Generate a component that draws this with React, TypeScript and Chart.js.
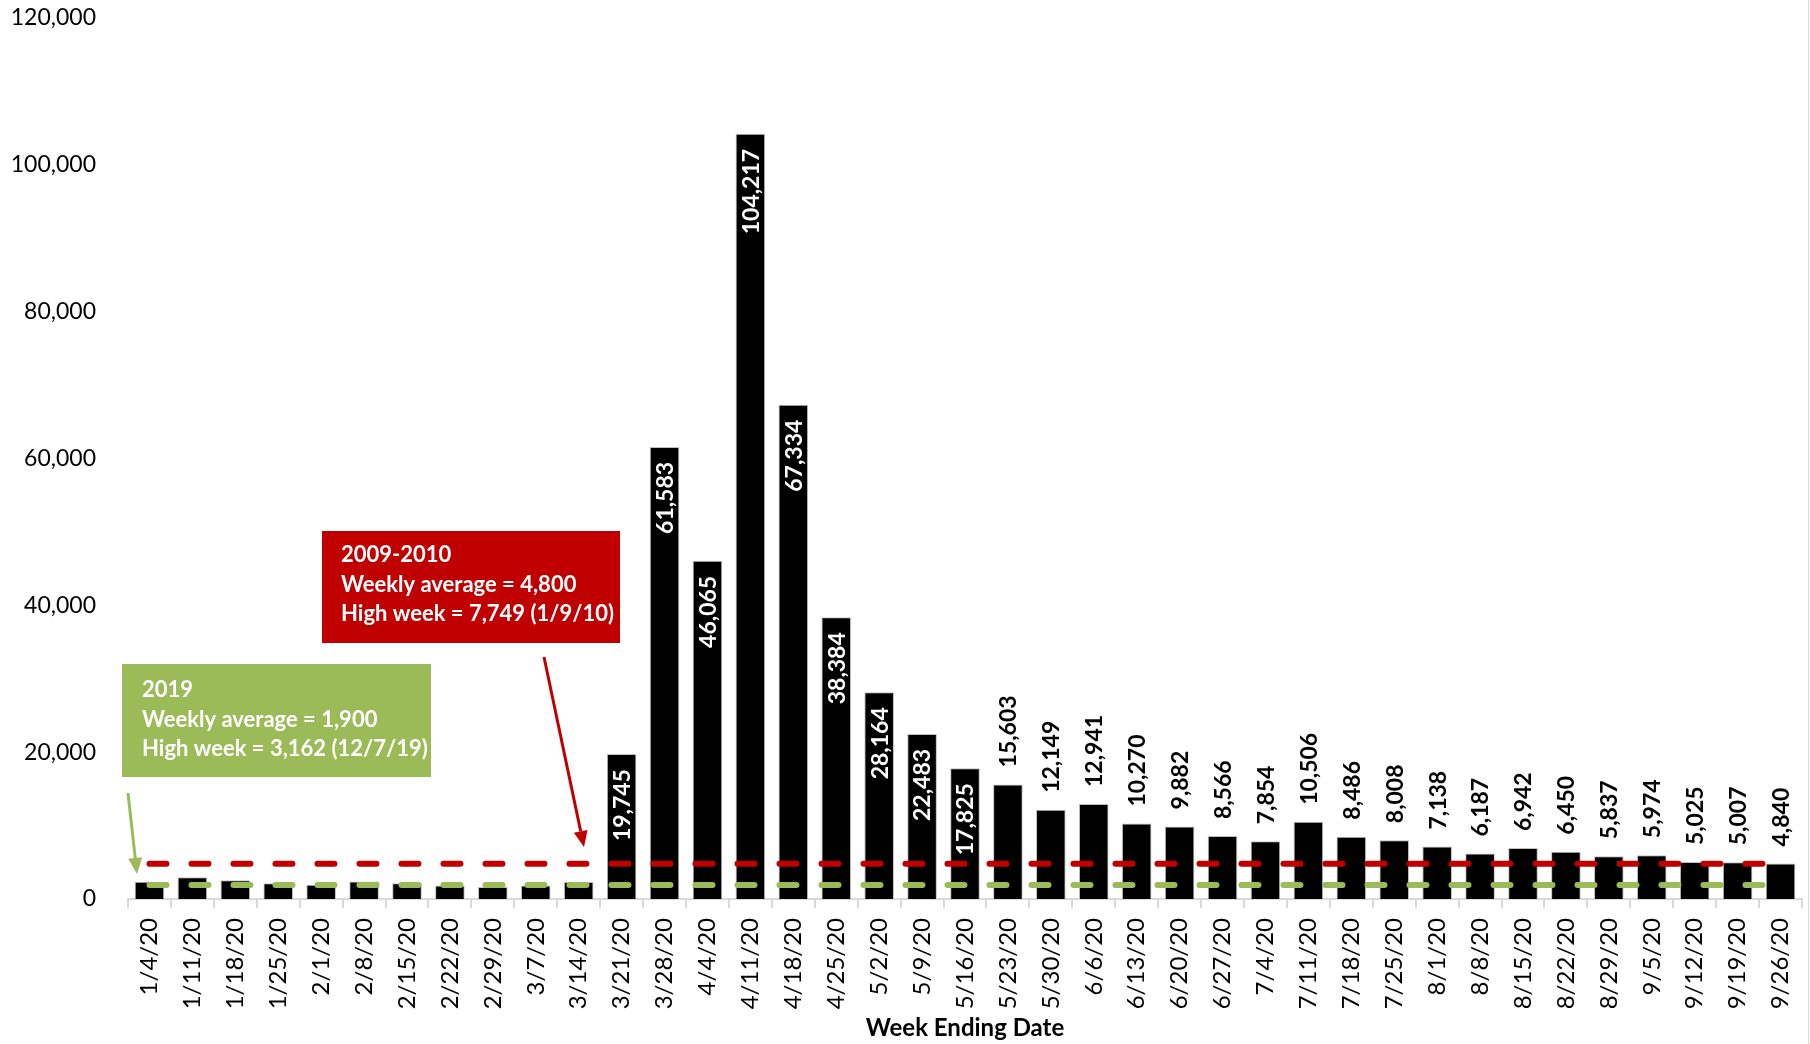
import React, { useEffect, useRef } from 'react';
import { Chart, registerables } from 'chart.js';

Chart.register(...registerables);

// ---- data ----
const weeks = [
  '1/4/20', '1/11/20', '1/18/20', '1/25/20', '2/1/20', '2/8/20', '2/15/20', '2/22/20', '2/29/20',
  '3/7/20', '3/14/20', '3/21/20', '3/28/20', '4/4/20', '4/11/20', '4/18/20', '4/25/20', '5/2/20',
  '5/9/20', '5/16/20', '5/23/20', '5/30/20', '6/6/20', '6/13/20', '6/20/20', '6/27/20', '7/4/20',
  '7/11/20', '7/18/20', '7/25/20', '8/1/20', '8/8/20', '8/15/20', '8/22/20', '8/29/20', '9/5/20',
  '9/12/20', '9/19/20', '9/26/20',
];

const claims = [
  2350, 2950, 2550, 2150, 1950, 2400, 2150, 1850, 1650,
  1850, 2300, 19745, 61583, 46065, 104217, 67334, 38384, 28164,
  22483, 17825, 15603, 12149, 12941, 10270, 9882, 8566, 7854,
  10506, 8486, 8008, 7138, 6187, 6942, 6450, 5837, 5974,
  5025, 5007, 4840,
];

const avg2009to2010 = 4800;
const avg2019 = 1900;

const yMin = 0;
const yMax = 120000;
const yStep = 20000;

const firstLabeledWeek = '3/21/20';
const insideLabelMin = 17000;

const redBoxLines = ['2009-2010', 'Weekly average = 4,800', 'High week = 7,749 (1/9/10)'];
const greenBoxLines = ['2019', 'Weekly average = 1,900', 'High week = 3,162 (12/7/19)'];

const xAxisTitle = 'Week Ending Date';

// ---- styles ----
const FONT = 'Lato, "Open Sans", "DejaVu Sans", sans-serif';
const RED = '#C00000';
const GREEN = '#9BBB59';
const AXIS_GRAY = '#D9D9D9';

const barLabelPlugin = {
  id: 'barLabels',
  afterDatasetsDraw(chart: any) {
    const meta = chart.getDatasetMeta(0);
    const ctx = chart.ctx;
    const start = weeks.indexOf(firstLabeledWeek);
    ctx.save();
    ctx.font = `bold 23px ${FONT}`;
    ctx.textBaseline = 'middle';
    meta.data.forEach((el: any, i: number) => {
      if (i < start) return;
      const v = claims[i];
      const inside = v >= insideLabelMin;
      const text = v.toLocaleString('en-US');
      ctx.save();
      ctx.translate(el.x, inside ? el.y + 15 : el.y - 17);
      ctx.rotate(-Math.PI / 2);
      ctx.textAlign = inside ? 'right' : 'left';
      ctx.fillStyle = inside ? '#FFFFFF' : '#000000';
      ctx.fillText(text, 0, 1);
      ctx.restore();
    });
    ctx.restore();
  },
};

function drawArrow(ctx: CanvasRenderingContext2D, x1: number, y1: number, x2: number, y2: number, color: string) {
  const ang = Math.atan2(y2 - y1, x2 - x1);
  const headLen = 16;
  const headHalf = 7;
  const bx = x2 - headLen * Math.cos(ang);
  const by = y2 - headLen * Math.sin(ang);
  ctx.save();
  ctx.strokeStyle = color;
  ctx.fillStyle = color;
  ctx.lineWidth = 3;
  ctx.beginPath();
  ctx.moveTo(x1, y1);
  ctx.lineTo(bx, by);
  ctx.stroke();
  ctx.beginPath();
  ctx.moveTo(x2, y2);
  ctx.lineTo(bx + headHalf * Math.sin(ang), by - headHalf * Math.cos(ang));
  ctx.lineTo(bx - headHalf * Math.sin(ang), by + headHalf * Math.cos(ang));
  ctx.closePath();
  ctx.fill();
  ctx.restore();
}

function drawBox(ctx: CanvasRenderingContext2D, x: number, y: number, w: number, h: number, color: string, lines: string[], tx: number, ty: number) {
  ctx.save();
  ctx.fillStyle = color;
  ctx.fillRect(x, y, w, h);
  ctx.fillStyle = '#FFFFFF';
  ctx.font = `bold 22px ${FONT}`;
  ctx.textAlign = 'left';
  ctx.textBaseline = 'middle';
  lines.forEach((l, i) => ctx.fillText(l, tx, ty + i * 29.5));
  ctx.restore();
}

const annotationPlugin = {
  id: 'annotations',
  afterDraw(chart: any) {
    const ctx = chart.ctx;
    drawBox(ctx, 322, 531, 298, 112, RED, redBoxLines, 341, 555);
    drawBox(ctx, 122, 664, 309, 113, GREEN, greenBoxLines, 142, 690);
    drawArrow(ctx, 544, 657, 584, 847, RED);
    drawArrow(ctx, 128, 793, 137, 874, GREEN);
    ctx.save();
    ctx.strokeStyle = AXIS_GRAY;
    ctx.lineWidth = 1;
    ctx.beginPath();
    ctx.moveTo(1808.5, 0);
    ctx.lineTo(1808.5, chart.height);
    ctx.stroke();
    ctx.restore();
  },
};

export default function App() {
  const canvasRef = useRef<HTMLCanvasElement | null>(null);

  useEffect(() => {
    if (!canvasRef.current) return;
    const first = weeks[0];
    const last = weeks[weeks.length - 1];
    const chart = new Chart(canvasRef.current, {
      type: 'bar',
      data: {
        labels: weeks,
        datasets: [
          {
            type: 'bar',
            label: 'Claims',
            data: claims,
            backgroundColor: '#000000',
            borderColor: '#BFBFBF',
            borderWidth: 1,
            categoryPercentage: 1,
            barPercentage: 0.69,
            order: 1,
          } as any,
          {
            type: 'line',
            label: '2009-2010 weekly average',
            data: [{ x: first, y: avg2009to2010 }, { x: last, y: avg2009to2010 }],
            borderColor: RED,
            borderWidth: 6,
            borderDash: [17, 25],
            borderCapStyle: 'round',
            pointRadius: 0,
            fill: false,
            order: 0,
          } as any,
          {
            type: 'line',
            label: '2019 weekly average',
            data: [{ x: first, y: avg2019 }, { x: last, y: avg2019 }],
            borderColor: GREEN,
            borderWidth: 6,
            borderDash: [17, 25],
            borderCapStyle: 'round',
            pointRadius: 0,
            fill: false,
            order: 0,
          } as any,
        ],
      },
      options: {
        responsive: false,
        animation: false,
        layout: { padding: { top: 18, right: 8, bottom: 0, left: 0 } },
        plugins: {
          legend: { display: false },
          tooltip: { enabled: false },
        },
        scales: {
          x: {
            type: 'category',
            grid: {
              offset: true,
              drawOnChartArea: false,
              drawTicks: true,
              tickLength: 9,
              color: AXIS_GRAY,
              lineWidth: 2,
            },
            border: { display: true, color: AXIS_GRAY, width: 2 },
            ticks: {
              autoSkip: false,
              maxRotation: 90,
              minRotation: 90,
              padding: 10,
              color: '#000000',
              font: { family: FONT, size: 24 },
            },
            title: {
              display: true,
              text: xAxisTitle,
              color: '#000000',
              font: { family: FONT, size: 24, weight: 'bold' },
              padding: { top: 0, bottom: 1 },
            },
            afterFit: (scale: any) => {
              scale.height = 145;
              scale.paddingLeft = 0;
              scale.paddingRight = 0;
            },
          },
          y: {
            min: yMin,
            max: yMax,
            grid: { display: false, drawTicks: false },
            border: { display: false },
            ticks: {
              stepSize: yStep,
              padding: 32,
              color: '#000000',
              font: { family: FONT, size: 23 },
              callback: (v: any) => Number(v).toLocaleString('en-US'),
            },
            afterFit: (scale: any) => {
              scale.width = 128;
              scale.paddingTop = 0;
              scale.paddingBottom = 0;
            },
          },
        },
      },
      plugins: [barLabelPlugin, annotationPlugin],
    });
    return () => chart.destroy();
  }, []);

  return (
    <div style={{ position: 'absolute', left: 0, top: 0, width: 1810, height: 1044, background: '#fff' }}>
      <canvas ref={canvasRef} width={1810} height={1044} style={{ display: 'block' }} />
    </div>
  );
}
